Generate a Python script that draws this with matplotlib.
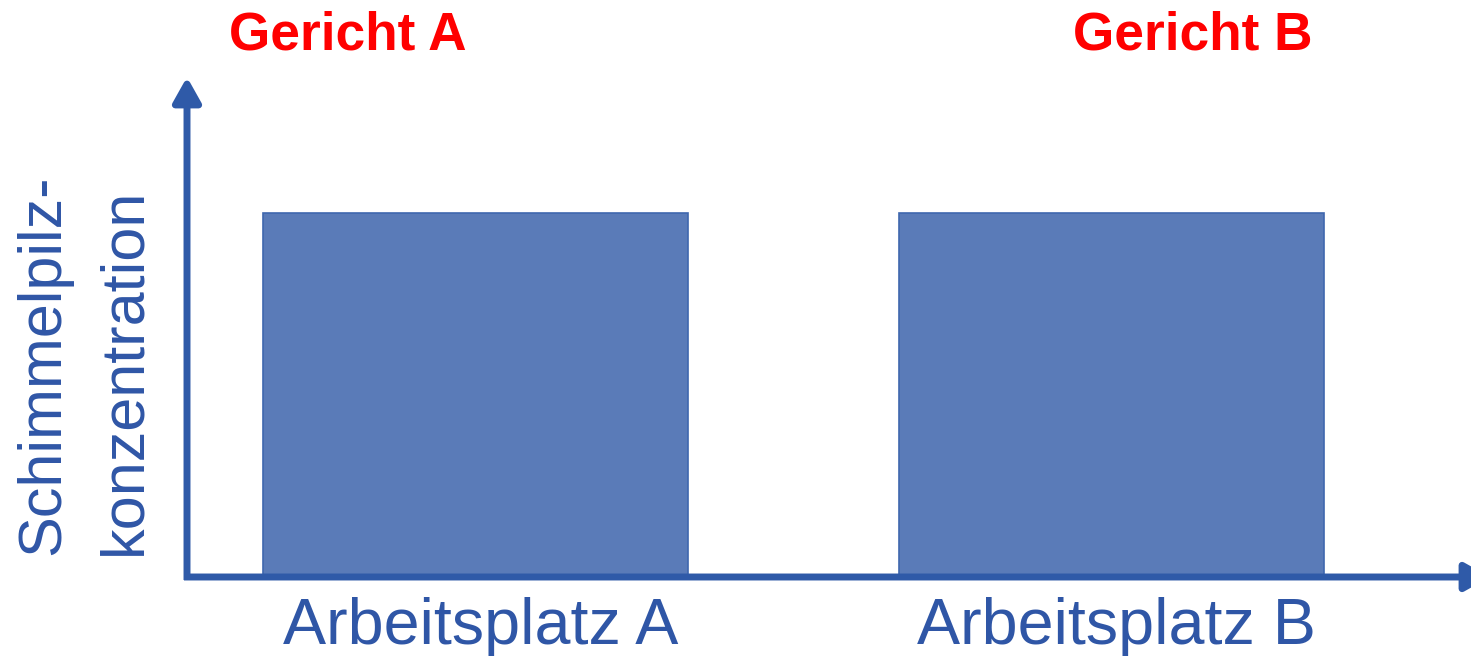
import matplotlib.pyplot as plt

plt.rcParams['font.family'] = ['Liberation Sans', 'DejaVu Sans']

# chart data
workplaces = ['Arbeitsplatz A', 'Arbeitsplatz B']
dishes = ['Gericht A', 'Gericht B']
concentration = [1.0, 1.0]

W, H = 1471, 656
axis_blue = '#2F5AA8'
bar_fill = '#5A7BB8'
bar_edge = '#3F67AE'
text_blue = '#2F56A6'

fig = plt.figure(figsize=(W / 100, H / 100), dpi=100)
fig.patch.set_facecolor('white')

# axes box in pixel terms: x 187..1471, y 80..577 (from top)
ax = fig.add_axes([187 / W, (H - 577) / H, (W - 187) / W, (577 - 80) / H])
ax.axis('off')
ax.set_xlim(-0.454, 1.566)
ax.set_ylim(0, 1.369)

pos = list(range(len(workplaces)))
ax.bar(pos, concentration, width=0.669, color=bar_fill, edgecolor=bar_edge,
       linewidth=1.2, bottom=0.004)

# axis arrows drawn in figure pixels
arrow = dict(arrowstyle='-|>,head_length=0.75,head_width=0.42',
             color=axis_blue, lw=5, mutation_scale=20, shrinkA=0, shrinkB=0,
             capstyle='butt')
ax.annotate('', xy=(187, H - 77), xytext=(187, H - 580), xycoords='figure pixels',
            arrowprops=arrow)
ax.annotate('', xy=(1490, H - 577), xytext=(184, H - 577), xycoords='figure pixels',
            arrowprops=arrow, annotation_clip=False)

# category labels under the bars and dish labels above
for p, name in zip(pos, workplaces):
    ax.text(p + 0.008, -0.055, name, transform=ax.transData, ha='center', va='top',
            fontsize=46.5, color=text_blue, clip_on=False)
for x, dish in zip([348, 1193], dishes):
    fig.text(x / W, 1 - 35 / H, dish, ha='center', va='center', fontsize=38.3,
             fontweight='bold', color='#FF0000')

# y axis title, two lines reading bottom to top
fig.text(44 / W, 1 - 555 / H, 'Schimmelpilz-', rotation=90, ha='center',
         va='bottom', fontsize=44, color=text_blue)
fig.text(125 / W, 1 - 555 / H, 'konzentration', rotation=90, ha='center',
         va='bottom', fontsize=44, color=text_blue)

fig.savefig('out.png', dpi=100, facecolor='white')
